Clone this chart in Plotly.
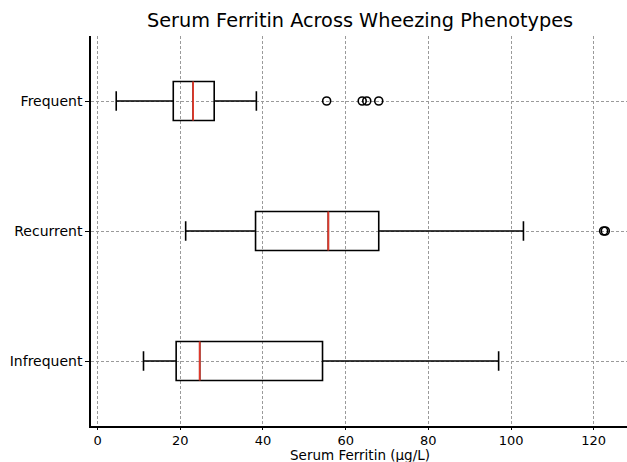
import plotly.graph_objects as go

categories = ["Infrequent", "Recurrent", "Frequent"]
positions = [1, 2, 3]
lower_whisker = [11.1, 21.3, 4.5]
q1 = [19.0, 38.2, 18.3]
median = [24.7, 55.8, 23.1]
q3 = [54.4, 68.0, 28.2]
upper_whisker = [97.0, 103.0, 38.4]
outliers = {
    "Infrequent": [],
    "Recurrent": [122.4, 122.8],
    "Frequent": [55.4, 64.0, 65.1, 68.0],
}
x_title = "Serum Ferritin (µg/L)"

box_width = 0.3
font = "DejaVu Sans"
W, H = 627, 462
ML, MR, MT, MB = 91, 0, 36, 36

fig = go.Figure()

fig.add_trace(go.Box(
    y=positions,
    q1=q1, median=median, q3=q3,
    lowerfence=lower_whisker, upperfence=upper_whisker,
    orientation="h",
    width=box_width,
    whiskerwidth=0.5,
    fillcolor="rgba(0,0,0,0)",
    line=dict(color="black", width=1.6),
    boxpoints=False,
    hoverinfo="skip",
    showlegend=False,
))

for cat, pos, med in zip(categories, positions, median):
    fig.add_trace(go.Scatter(
        x=[med, med], y=[pos - box_width / 2, pos + box_width / 2],
        mode="lines", line=dict(color="#e0392b", width=1.8),
        showlegend=False, hoverinfo="skip",
    ))
    pts = outliers[cat]
    if pts:
        fig.add_trace(go.Scatter(
            x=pts, y=[pos] * len(pts), mode="markers",
            marker=dict(symbol="circle-open", size=8, color="black",
                        line=dict(width=1.6, color="black")),
            showlegend=False, hoverinfo="skip",
        ))

plot_w = W - ML - MR
plot_h = H - MT - MB

fig.update_layout(
    width=W, height=H,
    margin=dict(l=ML, r=MR, t=MT, b=MB, autoexpand=False),
    paper_bgcolor="white", plot_bgcolor="white",
    font=dict(family=font, size=14, color="black"),
    title=dict(text="Serum Ferritin Across Wheezing Phenotypes",
               x=360 / W, xanchor="center", y=1 - 20 / H, yanchor="middle",
               font=dict(family=font, size=19.3, color="black")),
    annotations=[dict(
        text=x_title, xref="paper", yref="paper",
        x=(360 - ML) / plot_w, y=-MB / plot_h,
        xanchor="center", yanchor="bottom", yshift=-2,
        showarrow=False, borderpad=0,
        font=dict(family=font, size=13.5, color="black"),
    )],
)

fig.update_xaxes(
    range=[-1.6, 128.05], tickvals=[0, 20, 40, 60, 80, 100, 120],
    showline=True, linecolor="black", linewidth=1.5,
    ticks="outside", ticklen=2, tickcolor="black",
    tickfont=dict(family=font, size=13),
    showgrid=True, gridcolor="#9a9a9a", gridwidth=0.8, griddash="3px,2px",
    zeroline=False, automargin=False,
)
fig.update_yaxes(
    range=[0.5, 3.5], tickvals=positions, ticktext=categories,
    showline=True, linecolor="black", linewidth=1.5,
    ticks="outside", ticklen=4, tickcolor="black",
    showgrid=True, gridcolor="#9a9a9a", gridwidth=0.8, griddash="3px,2px",
    zeroline=False, automargin=False,
)

fig.write_html("out.html", config={"displayModeBar": False},
               post_script="document.body.style.margin='0';")
